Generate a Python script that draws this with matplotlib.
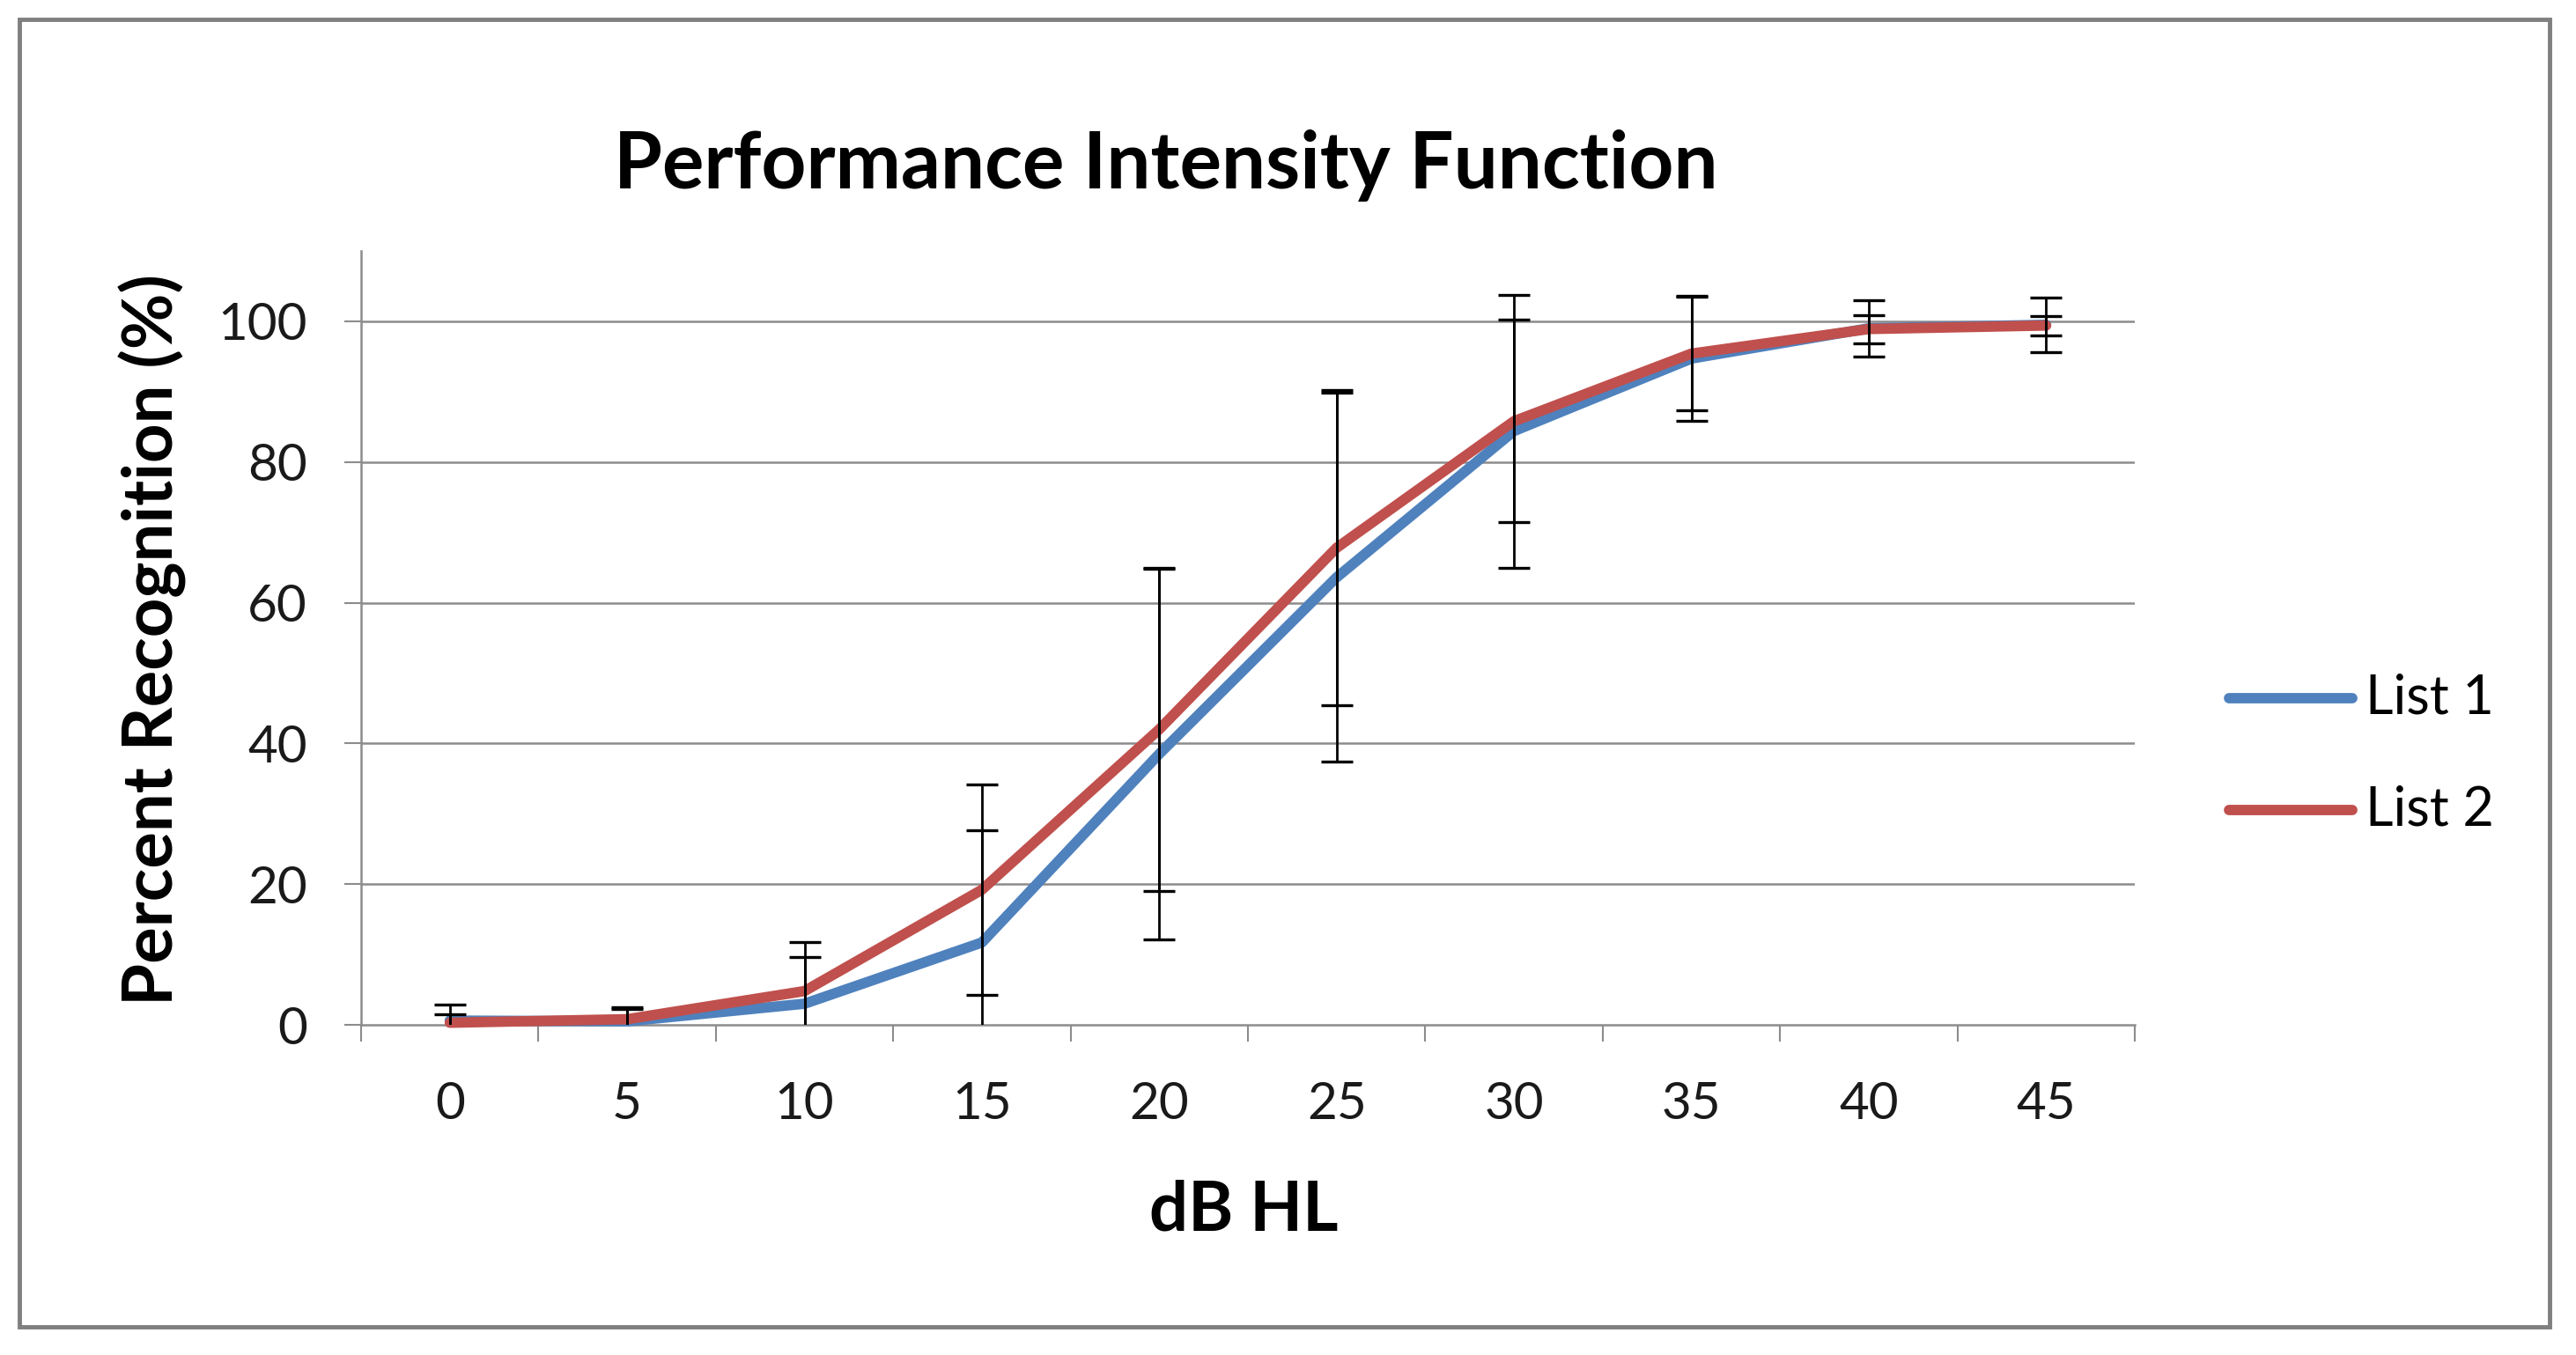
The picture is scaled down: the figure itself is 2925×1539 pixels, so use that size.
import matplotlib
matplotlib.use('Agg')
import matplotlib.pyplot as plt
from matplotlib.patches import Rectangle
from matplotlib.lines import Line2D
import numpy as np

plt.rcParams['font.family'] = ['Lato', 'DejaVu Sans']

# data
db_levels = ['0', '5', '10', '15', '20', '25', '30', '35', '40', '45']
list1 = [0.6, 0.5, 3.0, 11.7, 38.5, 63.6, 84.4, 94.7, 99.0, 99.5]
list1_err = [2.3, 2.0, 6.6, 15.9, 26.3, 26.2, 19.4, 8.9, 4.0, 3.9]
list2 = [0.3, 0.8, 4.8, 19.2, 42.0, 67.8, 85.8, 95.4, 98.9, 99.4]
list2_err = [1.2, 1.4, 7.0, 15.0, 23.0, 22.4, 14.4, 8.1, 2.0, 1.4]

blue = '#4F81BD'
red = '#C0504D'
grid_col = '#8C8C8C'

W, H = 2925, 1539
fig = plt.figure(figsize=(W / 100, H / 100), dpi=100)
fig.patch.set_facecolor('white')

# outer chart border
fig.patches.append(Rectangle((22 / W, 1 - 1507 / H), (2895 - 22) / W, (1507 - 22) / H,
                             transform=fig.transFigure, fill=False,
                             edgecolor='#7F7F7F', linewidth=3.5))

ax = fig.add_axes([410 / W, 1 - 1164 / H, (2424 - 410) / W, (1164 - 285) / H])
x = np.arange(len(db_levels))

l1, = ax.plot(x, list1, color=blue, lw=8.5, solid_capstyle='round', solid_joinstyle='round',
              zorder=3, clip_on=False)
l2, = ax.plot(x, list2, color=red, lw=8.5, solid_capstyle='round', solid_joinstyle='round',
              zorder=3, clip_on=False)
ax.errorbar(x, list1, yerr=list1_err, fmt='none', ecolor='black', elinewidth=2.0,
            capsize=13, capthick=2.4, zorder=4)
ax.errorbar(x, list2, yerr=list2_err, fmt='none', ecolor='black', elinewidth=2.0,
            capsize=13, capthick=2.4, zorder=4)

ax.set_xlim(-0.5, len(db_levels) - 0.5)
ax.set_ylim(0, 110)
ax.set_yticks([0, 20, 40, 60, 80, 100])
for v in [20, 40, 60, 80, 100]:
    ax.axhline(v, color=grid_col, lw=1.8, zorder=1)

ax.set_xticks(x)
ax.set_xticklabels(db_levels)
ax.set_xticks(np.arange(-0.5, len(db_levels)), minor=True)
ax.tick_params(axis='x', which='major', length=0, labelsize=42, pad=46, labelcolor='#1a1a1a')
ax.tick_params(axis='x', which='minor', length=14, width=1.5, color=grid_col, direction='out')
ax.tick_params(axis='y', length=14, width=1.5, color=grid_col, labelsize=42, pad=30,
               labelcolor='#1a1a1a')

for s in ['top', 'right']:
    ax.spines[s].set_visible(False)
for s in ['left', 'bottom']:
    ax.spines[s].set_color(grid_col)
    ax.spines[s].set_linewidth(1.8)

fig.text(1412 / W, 1 - 1375 / H, 'dB HL', ha='center', va='center',
         fontsize=56, fontweight='bold')
fig.text(173 / W, 1 - 727 / H, 'Percent Recognition (%)', ha='center', va='center',
         rotation=90, fontsize=56, fontweight='bold')
fig.text(1324 / W, 1 - 188 / H, 'Performance Intensity Function', ha='center', va='center',
         fontsize=64, fontweight='bold')

# legend drawn in figure coordinates
for yy, col, lab in [(793, blue, 'List 1'), (920, red, 'List 2')]:
    fig.lines.append(Line2D([2531 / W, 2671 / W], [1 - yy / H, 1 - yy / H],
                            transform=fig.transFigure, color=col, lw=8.5,
                            solid_capstyle='round'))
    fig.text(2686 / W, 1 - yy / H, lab, ha='left', va='center', fontsize=44)

fig.savefig('out.png', dpi=100)
